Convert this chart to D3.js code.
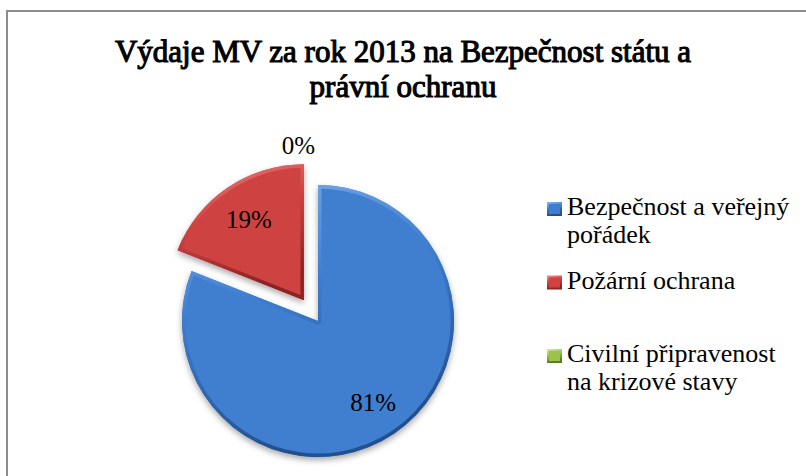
<!DOCTYPE html>
<html>
<head>
<meta charset="utf-8">
<script src="https://cdn.jsdelivr.net/npm/d3@7"></script>
</head>
<body style="margin:0">
<script>
// canvas size
const W = 806, H = 476
const serifName = 'Times New Roman'

// data
const titleLines = ['Výdaje MV za rok 2013 na Bezpečnost státu a', 'právní ochranu']
const categories = ['Bezpečnost a veřejný pořádek', 'Požární ochrana', 'Civilní připravenost na krizové stavy']
const legendLines = [['Bezpečnost a veřejný', 'pořádek'], ['Požární ochrana'], ['Civilní připravenost', 'na krizové stavy']]
const shares = [81, 19, 0]   // percent
const exploded = [0, 1, 1]   // which slices are pulled out

const colors = ['#3f7ecf', '#cf4342', '#9bc24a']
const light = ['#7fb0ec', '#ee8583', '#cbe58a']
const dark = ['#234f8c', '#8a2322', '#5d7a22']

// pie geometry
const cx = 318, cy = 321, r = 136, explode = 25

const svg = d3.select('body').append('svg')
  .attr('width', W).attr('height', H)

const defs = svg.append('defs')

// drop shadow under slices
const sh = defs.append('filter').attr('id', 'shadow')
  .attr('x', '-20%').attr('y', '-20%').attr('width', '140%').attr('height', '140%')
sh.append('feDropShadow').attr('dx', 0).attr('dy', 3).attr('stdDeviation', 3)
  .attr('flood-color', '#000').attr('flood-opacity', 0.35)

// bevel stroke gradients (light at top, dark at bottom)
colors.forEach((c, i) => {
  const g = defs.append('linearGradient').attr('id', 'bev' + i)
    .attr('x1', 0).attr('y1', 0).attr('x2', 0.3).attr('y2', 1)
  g.append('stop').attr('offset', '0%').attr('stop-color', light[i])
  g.append('stop').attr('offset', '45%').attr('stop-color', c)
  g.append('stop').attr('offset', '100%').attr('stop-color', dark[i])
})

// chart border (runs off the right and bottom edges)
svg.append('rect')
  .attr('x', 7).attr('y', 11).attr('width', W + 20).attr('height', H + 20)
  .attr('fill', 'none').attr('stroke', '#8c8c8c').attr('stroke-width', 2)

// pie
const pie = d3.pie().sort(null).startAngle(0).endAngle(2 * Math.PI)
const arcs = pie(shares)
const arc = d3.arc().innerRadius(0).outerRadius(r)
const labelArc = d3.arc().innerRadius(r * 0.72).outerRadius(r * 0.72)

function offset(d, i) {
  const a = (d.startAngle + d.endAngle) / 2
  const k = exploded[i] ? explode : 0
  return [Math.sin(a) * k, -Math.cos(a) * k]
}

const g = svg.append('g').attr('transform', `translate(${cx},${cy})`)

const slices = g.selectAll('.slice')
  .data(arcs)
  .join('g')
  .attr('class', 'slice')
  .attr('transform', (d, i) => `translate(${offset(d, i)})`)

slices.each(function (d, i) {
  if (d.endAngle - d.startAngle <= 0) return
  const s = d3.select(this)
  defs.append('clipPath').attr('id', 'clip' + i)
    .append('path').attr('d', arc(d))
  s.append('path')
    .attr('d', arc(d))
    .attr('fill', colors[i])
    .attr('filter', 'url(#shadow)')
  s.append('path')
    .attr('d', arc(d))
    .attr('fill', 'none')
    .attr('stroke', `url(#bev${i})`)
    .attr('stroke-width', 7)
    .attr('stroke-linejoin', 'round')
    .attr('clip-path', `url(#clip${i})`)
})

// legend keys
const ly = d3.scalePoint().domain(categories).range([215, 362])

svg.selectAll('.key')
  .data(categories)
  .join('rect')
  .attr('class', 'key')
  .attr('x', 548).attr('y', d => ly(d) - 12)
  .attr('width', 13).attr('height', 12)
  .attr('fill', (d, i) => colors[i])
  .attr('stroke', (d, i) => `url(#bev${i})`)
  .attr('stroke-width', 2)

// ---- all text goes last, straight on the svg root ----

// label anchor points in page coordinates
function labelPos(d, i) {
  const o = offset(d, i)
  let p
  if (d.endAngle - d.startAngle <= 0) {
    const a = d.startAngle - 0.13
    p = [Math.sin(a) * (r + 16), -Math.cos(a) * (r + 16)]
  } else {
    p = labelArc.centroid(d)
  }
  return [cx + p[0] + o[0], cy + p[1] + o[1]]
}

// flat list of legend text lines
const legendRows = []
categories.forEach((c, i) => {
  legendLines[i].forEach((t, j) => legendRows.push({ t, y: ly(c) + j * 28 }))
})

const texts = [
  ...titleLines.map((t, i) => ({ t, x: 403, y: 62 + i * 35, size: 31, anchor: 'middle', bold: true })),
  ...arcs.map((d, i) => {
    const p = labelPos(d, i)
    return { t: d.data + '%', x: p[0], y: p[1] + 9, size: 25, anchor: 'middle', bold: false }
  }),
  ...legendRows.map(row => ({ t: row.t, x: 567, y: row.y, size: 26, anchor: 'start', bold: false }))
]

svg.selectAll('.txt').data(texts).join('text')
  .attr('x', d => d.x)
  .attr('y', d => d.y)
  .attr('text-anchor', d => d.anchor)
  .style('font-family', d => `"${serifName}"`)
  .style('font-size', d => d.size + 'px')
  .attr('fill', '#000')
  .attr('stroke', d => d.bold ? '#000' : 'none')
  .attr('stroke-width', d => d.bold ? 1.1 : 0)
  .text(d => d.t)
</script>
</body>
</html>
